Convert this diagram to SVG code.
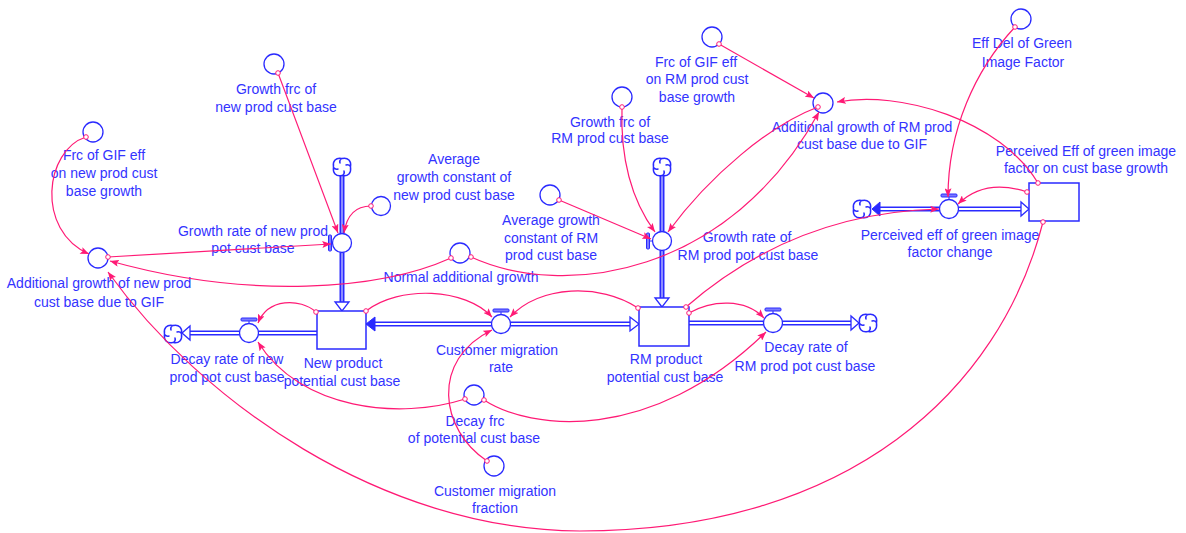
<svg xmlns="http://www.w3.org/2000/svg" width="1186" height="533" viewBox="0 0 1186 533">
  <style>
    text { font-family: "Liberation Sans", Arial, sans-serif; font-size: 14px; fill: #3333ff; text-anchor: middle; }
    .aux { fill: #ffffff; stroke: #2a2aff; stroke-width: 1.3; }
    .stock { fill: #ffffff; stroke: #2a2aff; stroke-width: 1.5; }
    .pipe-o { fill: none; stroke: #2a2aff; stroke-width: 5; }
    .pipe-h { fill: none; stroke: #ffffff; stroke-width: 2; }
    .pipe-v { fill: none; stroke: #8c8cff; stroke-width: 2; }
    .hollow { fill: #ffffff; stroke: #2a2aff; stroke-width: 1.3; stroke-linejoin: miter; }
    .solid { fill: #2a2aff; stroke: #2a2aff; stroke-width: 1; }
    .handle { fill: #7a7aff; stroke: #2a2aff; stroke-width: 1; }
    .cloud { fill: none; stroke: #2a2aff; stroke-width: 1.5; stroke-linecap: round; }
    .con { fill: none; stroke: #ff1a75; stroke-width: 1.2; marker-start: url(#dot); marker-end: url(#ah); }
  </style>
  <defs>
    <marker id="ah" viewBox="0 0 10 8" refX="10" refY="4" markerWidth="9" markerHeight="7" markerUnits="userSpaceOnUse" orient="auto">
      <path d="M0,0 L10,4 L0,8 L2,4 z" fill="#ff1a75"/>
    </marker>
    <marker id="dot" viewBox="0 0 6 6" refX="3" refY="3" markerWidth="6" markerHeight="6" markerUnits="userSpaceOnUse">
      <circle cx="3" cy="3" r="2.3" fill="#ffffff" stroke="#ff1a75" stroke-width="1"/>
    </marker>
    <!-- source/sink cloud: four curled quarter arcs around a white disc -->
    <path id="cq" d="M0.5,-8.5 C6,-9.5 9.5,-6 8.5,-0.5 Q6.5,-3 4,-2"/>
    <g id="cloud">
      <circle r="8.5" fill="#ffffff"/>
      <g class="cloud">
        <use href="#cq"/>
        <use href="#cq" transform="rotate(90)"/>
        <use href="#cq" transform="rotate(180)"/>
        <use href="#cq" transform="rotate(270)"/>
      </g>
    </g>
  </defs>

  <rect width="1186" height="533" fill="#ffffff"/>

  <!-- material flows (pipes, valves, clouds) -->
  <g id="flow-growth-new">
    <path class="pipe-o" d="M342,175 L342,303"/>
    <path class="pipe-v" d="M342,175 L342,303"/>
    <use href="#cloud" x="342" y="167"/>
    <path class="hollow" d="M342,311 L335,302 L349,302 z"/>
    <circle class="aux" cx="342" cy="243" r="9.5"/>
    <path class="handle" d="M332.5,243 L330.5,243"/>
    <rect class="handle" x="328.5" y="235" width="3" height="16" rx="1"/>
    <text x="253" y="236">Growth rate of new prod</text>
    <text x="253" y="253">pot cust base</text>
  </g>

  <g id="flow-growth-rm">
    <path class="pipe-o" d="M662,175 L662,299"/>
    <path class="pipe-v" d="M662,175 L662,299"/>
    <use href="#cloud" x="662" y="167"/>
    <path class="hollow" d="M662,307 L655,298 L669,298 z"/>
    <circle class="aux" cx="662" cy="241" r="9.5"/>
    <path class="handle" d="M652.5,241 L650,241"/>
    <rect class="handle" x="646.5" y="233" width="3" height="16" rx="1"/>
    <text x="747" y="242">Growth rate of</text>
    <text x="748" y="260">RM prod pot cust base</text>
  </g>

  <g id="flow-customer-migration">
    <path class="pipe-o" d="M374,324 L631,324"/>
    <path class="pipe-h" d="M374,324 L631,324"/>
    <path class="solid" d="M366,324 L375,317 L375,331 z"/>
    <path class="hollow" d="M639,324 L630,317 L630,331 z"/>
    <circle class="aux" cx="501" cy="324" r="9.5"/>
    <path class="handle" d="M501,314.5 L501,312"/>
    <rect class="handle" x="493" y="309" width="16" height="3" rx="1"/>
    <text x="497" y="355">Customer migration</text>
    <text x="501" y="372">rate</text>
  </g>

  <g id="flow-decay-new">
    <path class="pipe-o" d="M317,333 L190,333"/>
    <path class="pipe-h" d="M317,333 L190,333"/>
    <path class="hollow" d="M182,333 L190,326 L190,340 z"/>
    <use href="#cloud" x="173" y="334"/>
    <circle class="aux" cx="249" cy="333" r="9.5"/>
    <path class="handle" d="M249,323.5 L249,321"/>
    <rect class="handle" x="241" y="318" width="16" height="3" rx="1"/>
    <text x="227" y="364">Decay rate of new</text>
    <text x="227" y="382">prod pot cust base</text>
  </g>

  <g id="flow-decay-rm">
    <path class="pipe-o" d="M689,323 L851,323"/>
    <path class="pipe-h" d="M689,323 L851,323"/>
    <path class="hollow" d="M859,323 L851,316 L851,330 z"/>
    <use href="#cloud" x="868" y="323"/>
    <circle class="aux" cx="773" cy="323" r="9.5"/>
    <path class="handle" d="M773,313.5 L773,311"/>
    <rect class="handle" x="765" y="308" width="16" height="3" rx="1"/>
    <text x="806" y="352">Decay rate of</text>
    <text x="805" y="371">RM prod pot cust base</text>
  </g>

  <g id="flow-perceived-change">
    <path class="pipe-o" d="M880,209 L1021,209"/>
    <path class="pipe-h" d="M880,209 L1021,209"/>
    <use href="#cloud" x="862" y="209"/>
    <path class="solid" d="M872,209 L880,202 L880,216 z"/>
    <path class="hollow" d="M1029,209 L1021,202 L1021,216 z"/>
    <circle class="aux" cx="949" cy="209" r="9.5"/>
    <path class="handle" d="M949,199.5 L949,197"/>
    <rect class="handle" x="941" y="194" width="16" height="3" rx="1"/>
    <text x="950" y="240">Perceived eff of green image</text>
    <text x="950" y="257">factor change</text>
  </g>

  <!-- stocks -->
  <g id="stock-new-product">
    <rect class="stock" x="317" y="311" width="49" height="38"/>
    <text x="343" y="368">New product</text>
    <text x="342" y="386">potential cust base</text>
  </g>
  <g id="stock-rm-product">
    <rect class="stock" x="639" y="307" width="50" height="39"/>
    <text x="666" y="364">RM product</text>
    <text x="665" y="382">potential cust base</text>
  </g>
  <g id="stock-perceived-eff">
    <rect class="stock" x="1029" y="183" width="50" height="38"/>
    <text x="1086" y="156">Perceived Eff of green image</text>
    <text x="1086" y="173">factor on cust base growth</text>
  </g>

  <!-- auxiliaries -->
  <g id="aux-frc-gif-new">
    <circle class="aux" cx="93" cy="132" r="10"/>
    <text x="104" y="160">Frc of GIF eff</text>
    <text x="104" y="178">on new prod cust</text>
    <text x="104" y="196">base growth</text>
  </g>
  <g id="aux-add-growth-new">
    <circle class="aux" cx="98" cy="258" r="10"/>
    <text x="99" y="288">Additional growth of new prod</text>
    <text x="99" y="307">cust base due to GIF</text>
  </g>
  <g id="aux-growth-frc-new">
    <circle class="aux" cx="274" cy="64" r="10"/>
    <text x="276" y="94">Growth frc of</text>
    <text x="276" y="112">new prod cust base</text>
  </g>
  <g id="aux-avg-growth-new">
    <circle class="aux" cx="381" cy="206" r="9.5"/>
    <text x="454" y="164">Average</text>
    <text x="454" y="182">growth constant of</text>
    <text x="454" y="200">new prod cust base</text>
  </g>
  <g id="aux-normal-additional">
    <circle class="aux" cx="460" cy="253" r="10"/>
    <text x="461" y="282">Normal additional growth</text>
  </g>
  <g id="aux-avg-growth-rm">
    <circle class="aux" cx="550" cy="195" r="10"/>
    <text x="551" y="225">Average growth</text>
    <text x="551" y="243">constant of RM</text>
    <text x="551" y="260">prod cust base</text>
  </g>
  <g id="aux-growth-frc-rm">
    <circle class="aux" cx="622" cy="97" r="10"/>
    <text x="610" y="127">Growth frc of</text>
    <text x="610" y="143">RM prod cust base</text>
  </g>
  <g id="aux-frc-gif-rm">
    <circle class="aux" cx="712" cy="37" r="10"/>
    <text x="696" y="67">Frc of GIF eff</text>
    <text x="697" y="84">on RM prod cust</text>
    <text x="697" y="102">base growth</text>
  </g>
  <g id="aux-add-growth-rm">
    <circle class="aux" cx="823" cy="103" r="10"/>
    <text x="862" y="132">Additional growth of RM prod</text>
    <text x="862" y="149">cust base due to GIF</text>
  </g>
  <g id="aux-eff-del">
    <circle class="aux" cx="1021" cy="19" r="10"/>
    <text x="1022" y="48">Eff Del of Green</text>
    <text x="1023" y="67">Image Factor</text>
  </g>
  <g id="aux-decay-frc">
    <circle class="aux" cx="474" cy="395" r="10"/>
    <text x="475" y="426">Decay frc</text>
    <text x="474" y="443">of potential cust base</text>
  </g>
  <g id="aux-migration-fraction">
    <circle class="aux" cx="494" cy="466" r="10"/>
    <text x="495" y="496">Customer migration</text>
    <text x="495" y="513">fraction</text>
  </g>

  <!-- information links -->
  <g id="connectors">
    <path class="con" d="M86,137 C45,150 35,230 89,254"/>
    <path class="con" d="M108,257 L331,244"/>
    <path class="con" d="M451,258 C380,290 250,300 110,261"/>
    <path class="con" d="M1043,222 C1000,390 850,531 580,531 C380,530 200,400 108,272"/>
    <path class="con" d="M278,73 L338,233"/>
    <path class="con" d="M371,206 Q348,206 344,233"/>
    <path class="con" d="M719,44 L814,98"/>
    <path class="con" d="M622,107 C620,165 635,205 655,232"/>
    <path class="con" d="M559,200 L651,239"/>
    <path class="con" d="M818,107 C770,125 710,175 668,232"/>
    <path class="con" d="M471,257 C565,300 730,275 819,112"/>
    <path class="con" d="M686,307 C740,260 820,212 939,209"/>
    <path class="con" d="M1038,183 C1000,120 900,90 837,102"/>
    <path class="con" d="M1027,192 Q985,178 958,204"/>
    <path class="con" d="M1015,27 C975,70 948,130 948,197"/>
    <path class="con" d="M316,312 C300,298 268,298 258,323"/>
    <path class="con" d="M366,311 C400,285 465,288 492,317"/>
    <path class="con" d="M638,308 C600,283 540,285 510,317"/>
    <path class="con" d="M689,313 C712,300 745,298 764,318"/>
    <path class="con" d="M487,461 C440,430 430,360 492,330"/>
    <path class="con" d="M465,399 C400,420 300,410 258,342"/>
    <path class="con" d="M484,400 C530,430 650,445 766,332"/>
  </g>
</svg>
